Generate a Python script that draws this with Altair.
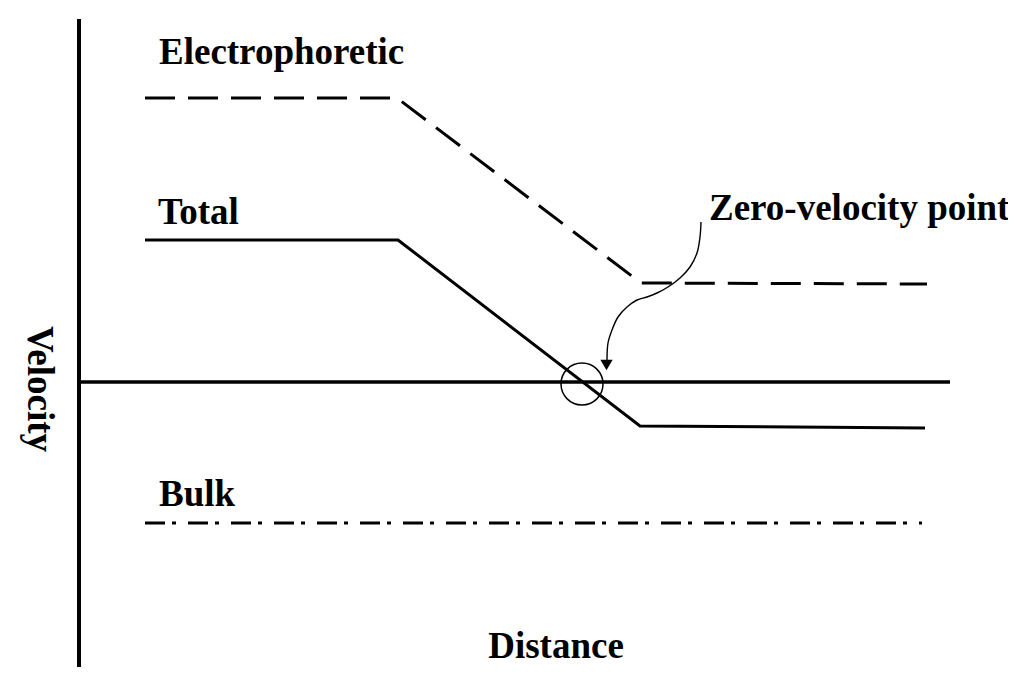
import altair as alt
import pandas as pd

# ---- data (schematic units: distance / velocity) ----
electro_x = [0.66, 3.18, 5.62, 8.48]
electro_y = [2.84, 2.84, 0.99, 0.98]

total_x = [0.66, 3.19, 5.61, 8.46]
total_y = [1.42, 1.42, -0.44, -0.46]

bulk_x = [0.66, 8.43]
bulk_y = [-1.41, -1.41]

h_axis_x = [0.0, 8.71]
h_axis_y = [0.0, 0.0]
v_axis_x = [0.0, 0.0]
v_axis_y = [3.63, -2.85]

zero_point_x = [5.03]
zero_point_y = [-0.02]

arrow_x = [6.22, 6.21, 6.18, 6.11, 6.01, 5.89, 5.78, 5.68, 5.58, 5.48, 5.39, 5.33, 5.29, 5.28]
arrow_y = [1.60, 1.45, 1.29, 1.15, 1.04, 0.95, 0.89, 0.85, 0.82, 0.75, 0.65, 0.52, 0.39, 0.22]
arrow_head_x = [5.275]
arrow_head_y = [0.17]

label_text = ["Electrophoretic", "Total", "Bulk", "Zero-velocity point"]
label_x = [0.80, 0.79, 0.80, 6.30]
label_y = [3.18, 1.58, -1.24, 1.62]

x_title = "Distance"
x_title_pos = [4.77, -2.76]
y_title = "Velocity"
y_title_pos = [-0.51, -0.07]

X_DOMAIN = [-0.71, 9.29]
Y_DOMAIN = [-2.91, 3.74]
FONT = "Liberation Serif"
FS = 37


def line_df(xs, ys):
    return pd.DataFrame({"x": xs, "y": ys, "o": list(range(len(xs)))})


xs = alt.Scale(domain=X_DOMAIN, nice=False, zero=False)
ys = alt.Scale(domain=Y_DOMAIN, nice=False, zero=False)


def X(field="x"):
    return alt.X(f"{field}:Q", scale=xs, axis=None)


def Y(field="y"):
    return alt.Y(f"{field}:Q", scale=ys, axis=None)


def line_layer(xv, yv, **mark):
    return alt.Chart(line_df(xv, yv)).mark_line(color="black", **mark).encode(
        x=X(), y=Y(), order="o:Q"
    )


v_axis = line_layer(v_axis_x, v_axis_y, strokeWidth=4)
h_axis = line_layer(h_axis_x, h_axis_y, strokeWidth=3.5)
electro = line_layer(electro_x, electro_y, strokeWidth=3, strokeDash=[30, 13])
total = line_layer(total_x, total_y, strokeWidth=3)
bulk = line_layer(bulk_x, bulk_y, strokeWidth=3.2, strokeDash=[20, 7, 4, 12])
arrow = line_layer(arrow_x, arrow_y, strokeWidth=1.4, interpolate="catmull-rom")

head = alt.Chart(pd.DataFrame({"x": arrow_head_x, "y": arrow_head_y})).mark_point(
    shape="triangle-down", filled=True, color="black", size=150, opacity=1
).encode(x=X(), y=Y())

circle = alt.Chart(pd.DataFrame({"x": zero_point_x, "y": zero_point_y})).mark_point(
    shape="circle", filled=False, color="black", size=1764, strokeWidth=1.5, opacity=1
).encode(x=X(), y=Y())

labels = alt.Chart(pd.DataFrame({"x": label_x, "y": label_y, "t": label_text})).mark_text(
    font=FONT, fontSize=FS, fontWeight="bold", align="left", baseline="alphabetic", color="black"
).encode(x=X(), y=Y(), text="t:N")

xtitle = alt.Chart(pd.DataFrame({"x": [x_title_pos[0]], "y": [x_title_pos[1]], "t": [x_title]})).mark_text(
    font=FONT, fontSize=FS, fontWeight="bold", align="center", baseline="alphabetic", color="black"
).encode(x=X(), y=Y(), text="t:N")

ytitle = alt.Chart(pd.DataFrame({"x": [y_title_pos[0]], "y": [y_title_pos[1]], "t": [y_title]})).mark_text(
    font=FONT, fontSize=FS, fontWeight="bold", align="center", baseline="alphabetic", angle=90, color="black"
).encode(x=X(), y=Y(), text="t:N")

chart = alt.layer(
    v_axis, h_axis, electro, total, bulk, arrow, head, circle, labels, xtitle, ytitle
).properties(
    width=1000, height=665, padding=0, autosize=alt.AutoSizeParams(type="none")
).configure_view(stroke=None)

chart.save("out.html", embed_options={"renderer": "svg", "actions": False})
